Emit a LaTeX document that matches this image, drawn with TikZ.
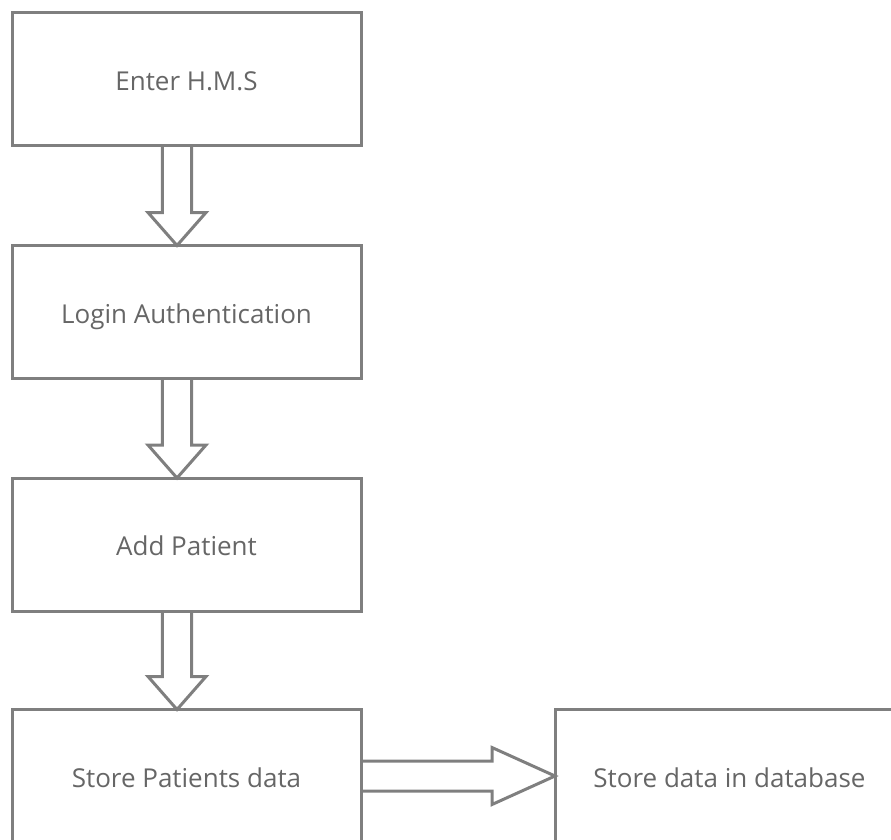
\documentclass[tikz,border=0pt]{standalone}
\usepackage{fontspec}
\setmainfont{Open Sans}
\usetikzlibrary{calc}
\definecolor{lc}{HTML}{7F7F7F}
\definecolor{tc}{HTML}{666666}
\newcommand\vblock[2]{%
  \draw[blk] ($(#1.south)+(-24.2,0)$) -- ($(#2.north)+(-24.2,-33)$) -- ($(#2.north)+(-38.5,-33)$)
    -- ($(#2.north)+(-9.5,0)$) -- ($(#2.north)+(19.5,-33)$) -- ($(#2.north)+(5.2,-33)$) -- ($(#1.south)+(5.2,0)$);}
\begin{document}
\begin{tikzpicture}[x=1pt,y=-1pt,
  box/.style={draw=lc, line width=3pt, minimum width=349pt, minimum height=133pt,
    inner sep=0pt, outer sep=0pt, font=\fontsize{26}{30}\selectfont, text=tc,
    text height=22pt, text depth=0pt},
  blk/.style={draw=lc, line width=3pt, line join=miter}]
\useasboundingbox (0,0) rectangle (891,839);
\clip (0,0) rectangle (891,839);
\node[box] (b1) at (186.5,79) {Enter H.M.S};
\node[box] (b2) at (186.5,312) {Login Authentication};
\node[box] (b3) at (186.5,544.5) {Add Patient};
\node[box] (b4) at (186.5,776) {Store Patients data};
\node[box] (b5) at (729.5,776) {Store data in database};
\vblock{b1}{b2}
\vblock{b2}{b3}
\vblock{b3}{b4}
\draw[blk] ($(b4.east)+(0,-15)$) -- ($(b5.west)+(-63,-15)$) -- ($(b5.west)+(-63,-28.5)$)
  -- (b5.west) -- ($(b5.west)+(-63,28.5)$) -- ($(b5.west)+(-63,15)$) -- ($(b4.east)+(0,15)$);
\end{tikzpicture}
\end{document}
